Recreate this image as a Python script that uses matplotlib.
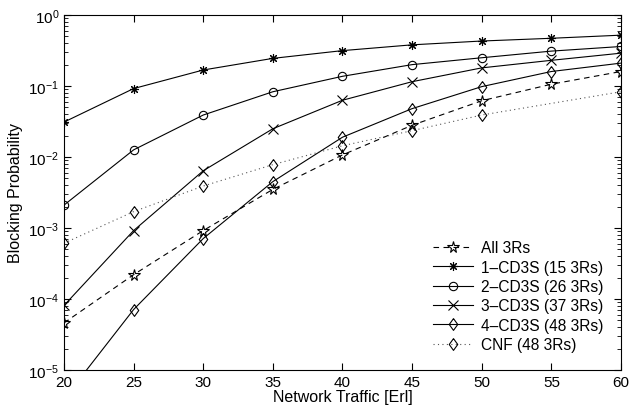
import matplotlib
matplotlib.use("Agg")
import matplotlib.pyplot as plt

traffic = [20, 25, 30, 35, 40, 45, 50, 55, 60]
traffic_cnf = [20, 25, 30, 35, 40, 45, 50, 60]

all_3rs = [4.6e-5, 2.2e-4, 9.2e-4, 3.5e-3, 1.07e-2, 2.8e-2, 6.2e-2, 1.06e-1, 1.6e-1]
cd3s_1 = [0.031, 0.092, 0.168, 0.245, 0.315, 0.38, 0.43, 0.47, 0.52]
cd3s_2 = [2.1e-3, 1.26e-2, 3.9e-2, 8.3e-2, 0.137, 0.20, 0.25, 0.31, 0.36]
cd3s_3 = [8.1e-5, 9.2e-4, 6.4e-3, 2.5e-2, 6.3e-2, 0.115, 0.18, 0.23, 0.29]
cd3s_4 = [3.9e-6, 7.1e-5, 7.1e-4, 4.5e-3, 1.9e-2, 4.8e-2, 9.8e-2, 0.16, 0.21]
cnf = [6.1e-4, 1.7e-3, 3.9e-3, 7.8e-3, 1.44e-2, 2.35e-2, 3.9e-2, 8.3e-2]

plt.rcParams["font.family"] = ["Liberation Sans", "DejaVu Sans"]
plt.rcParams["font.size"] = 11

# MATLAB-style diamond: taller than wide
diamond = [(0, 1), (0.72, 0), (0, -1), (-0.72, 0), (0, 1)]

fig = plt.figure(figsize=(6.41, 4.06), dpi=100)
ax = fig.add_axes([0.0998, 0.0862, 0.8690, 0.8744])

kw = dict(color="black", lw=0.8, mfc="none", mec="black", mew=0.8)
ax.plot(traffic, all_3rs, ls=(0, (5, 4)), marker="*", ms=8.5, label="All 3Rs", **kw)
ax.plot(traffic, cd3s_1, ls="-", marker=(8, 2, 0), ms=6.5, label="1\u2013CD3S (15 3Rs)", **kw)
ax.plot(traffic, cd3s_2, ls="-", marker="o", ms=6, label="2\u2013CD3S (26 3Rs)", **kw)
ax.plot(traffic, cd3s_3, ls="-", marker="x", ms=6.5, label="3\u2013CD3S (37 3Rs)", **kw)
ax.plot(traffic, cd3s_4, ls="-", marker=diamond, ms=8.5, label="4\u2013CD3S (48 3Rs)", **kw)
ax.plot(traffic_cnf, cnf, ls=(0, (1, 3)), marker=diamond, ms=8.5, label="CNF (48 3Rs)",
        color="#555555", lw=0.8, mfc="none", mec="black", mew=0.8)

ax.set_yscale("log")
ax.set_xlim(20, 60)
ax.set_ylim(1e-5, 1)
ax.set_xticks(traffic)
ax.tick_params(which="both", direction="in", top=True, right=True, labelsize=11)
ax.tick_params(which="major", length=5)
ax.tick_params(which="minor", length=3)
ax.set_xlabel("Network Traffic [Erl]", labelpad=0, fontsize=11.5)
ax.set_ylabel("Blocking Probability", labelpad=4, fontsize=11.5)

ax.legend(loc="lower right", frameon=False, handlelength=2.6, handletextpad=0.5,
          labelspacing=0.28, borderaxespad=0.75, fontsize=11.2)

fig.savefig("out.png", dpi=100)
